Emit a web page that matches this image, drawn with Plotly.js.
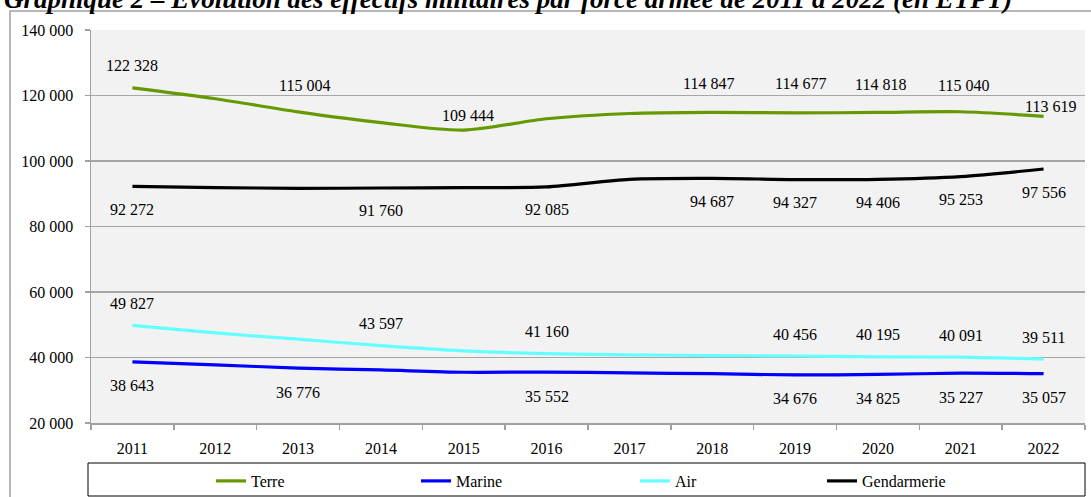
<!DOCTYPE html>
<html>
<head>
<meta charset="utf-8">
<script src="https://cdn.plot.ly/plotly-3.0.1.min.js"></script>
<style>html,body{margin:0;padding:0;background:#fff;}#chart{width:1091px;height:497px;}</style>
</head>
<body>
<div id="chart"></div>
<script>
// ---- data ----
const years = ['2011','2012','2013','2014','2015','2016','2017','2018','2019','2020','2021','2022'];
const terre = [122328, 119000, 115004, 111700, 109444, 112900, 114500, 114847, 114677, 114818, 115040, 113619];
const marine = [38643, 37750, 36776, 36200, 35500, 35552, 35300, 35050, 34676, 34825, 35227, 35057];
const air = [49827, 47500, 45600, 43597, 42000, 41160, 40800, 40600, 40456, 40195, 40091, 39511];
const gendarmerie = [92272, 91900, 91650, 91760, 91850, 92085, 94400, 94687, 94327, 94406, 95253, 97556];
const seriesNames = ['Terre', 'Marine', 'Air', 'Gendarmerie'];
const yTicks = [20000, 40000, 60000, 80000, 100000, 120000, 140000];
// years that carry a data label in the original
const terreLabelYears = ['2011','2013','2015','2018','2019','2020','2021','2022'];
const marineLabelYears = ['2011','2013','2016','2019','2020','2021','2022'];
const airLabelYears = ['2011','2014','2016','2019','2020','2021','2022'];
const gendLabelYears = ['2011','2014','2016','2018','2019','2020','2021','2022'];

// ---- styles / label placement (pixels) ----
const colors = ['#669900', '#0000ff', '#66ffff', '#000000'];
const terreYShift = [22, 26, 15, 29, 29, 28, 26, 10];
const terreXShift = [0, 6, 4, -4, 5, 3, 3, 7];
const legendItemLeftPx = [211, 416, 635, 822];
const W = 1091, H = 497, ML = 91, MR = 6, MT = 30, MB = 74;
const FONT = '"Liberation Serif", "Times New Roman", serif';

function fmt(v) { return String(Math.round(v)).replace(/\B(?=(\d{3})+(?!\d))/g, '\u00a0'); }

const values = [terre, marine, air, gendarmerie];
const legendIds = ['legend', 'legend2', 'legend3', 'legend4'];
const traces = values.map((vals, i) => ({
  type: 'scatter', mode: 'lines', x: years, y: vals, name: seriesNames[i],
  legend: legendIds[i],
  line: {color: colors[i], width: 3.2, shape: 'spline', smoothing: 0.8},
  hoverinfo: 'x+y+name'
}));

const annotations = [];
function addLabels(labelYears, vals, yshifts, xshifts) {
  labelYears.forEach((yr, k) => {
    const idx = years.indexOf(yr);   // category index on the x axis
    annotations.push({
      x: idx, y: vals[idx], xref: 'x', yref: 'y', text: fmt(vals[idx]), showarrow: false,
      xanchor: 'center', yanchor: 'middle',
      yshift: Array.isArray(yshifts) ? yshifts[k] : yshifts,
      xshift: Array.isArray(xshifts) ? xshifts[k] : (xshifts || 0),
      font: {family: FONT, size: 16, color: '#000'}
    });
  });
}
addLabels(terreLabelYears, terre, terreYShift, terreXShift);
addLabels(marineLabelYears, marine, -24, 0);
addLabels(airLabelYears, air, 22, 0);
addLabels(gendLabelYears, gendarmerie, -23, 0);

const plotH = H - MT - MB;
const plotW = W - ML - MR;
const py = px => (H - MB - px) / plotH;   // page pixel row -> paper y
const pxX = px => (px - ML) / plotW;      // page pixel column -> paper x

// title (partially cut at the top in the original)
annotations.push({
  xref: 'paper', yref: 'paper', x: pxX(2), y: py(-1), xanchor: 'left', yanchor: 'middle',
  showarrow: false,
  text: '<b><i>Graphique 2 – Évolution des effectifs militaires par force armée de 2011 à 2022 (en ETPT)</i></b>',
  font: {family: FONT, size: 27, color: '#000'}
});

const layout = {
  width: W, height: H,
  margin: {l: ML, r: MR, t: MT, b: MB},
  paper_bgcolor: '#ffffff', plot_bgcolor: '#f2f2f2',
  separators: ', ',
  showlegend: true,
  xaxis: {
    type: 'category', range: [-0.5, 11.5], fixedrange: true,
    showline: true, linecolor: '#a0a0a0', linewidth: 1.5, showgrid: false, zeroline: false,
    ticks: 'outside', tickson: 'boundaries', ticklen: 5, tickcolor: '#a0a0a0', tickwidth: 1.5,
    ticklabelstandoff: 10,
    tickfont: {family: FONT, size: 16, color: '#000'}
  },
  yaxis: {
    range: [20000, 140000], tickvals: yTicks, ticktext: yTicks.map(fmt), fixedrange: true,
    showline: true, linecolor: '#a0a0a0', linewidth: 1.5,
    showgrid: true, gridcolor: '#a6a6a6', gridwidth: 1.3, zeroline: false,
    ticks: 'outside', ticklen: 5, tickcolor: '#a0a0a0', tickwidth: 1.5,
    ticklabelstandoff: 8,
    tickfont: {family: FONT, size: 16, color: '#000'}
  },
  annotations: annotations,
  shapes: [
    {type: 'rect', xref: 'paper', yref: 'paper', x0: pxX(10), x1: pxX(1110), y0: py(11), y1: py(540),
     line: {color: '#a0a0a0', width: 1.5}, fillcolor: 'rgba(0,0,0,0)', layer: 'below'},
    {type: 'rect', xref: 'paper', yref: 'paper', x0: pxX(88), x1: pxX(1085), y0: py(463), y1: py(496),
     line: {color: '#000000', width: 1}, fillcolor: 'rgba(0,0,0,0)', layer: 'above'}
  ]
};
legendIds.forEach((id, i) => {
  layout[id] = {
    orientation: 'h', xref: 'container', yref: 'container',
    x: legendItemLeftPx[i] / W, xanchor: 'left', y: 1 - 481 / H, yanchor: 'middle',
    bgcolor: 'rgba(0,0,0,0)', borderwidth: 0,
    font: {family: FONT, size: 16, color: '#000'}
  };
});

Plotly.newPlot('chart', traces, layout, {displayModeBar: false, staticPlot: true});
</script>
</body>
</html>
